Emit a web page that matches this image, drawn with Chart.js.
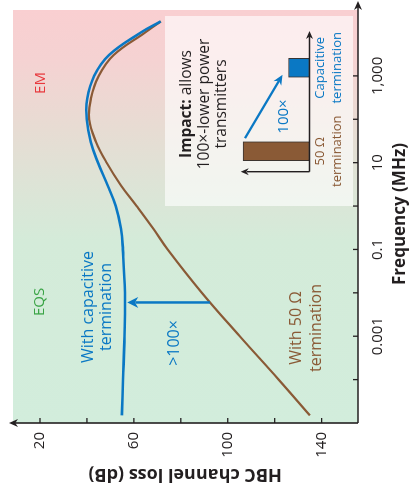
<!DOCTYPE html>
<html>
<head>
<meta charset="utf-8">
<script src="https://cdn.jsdelivr.net/npm/chart.js"></script>
<style>
  html, body { margin: 0; padding: 0; background: #fff; overflow: hidden; }
  #wrap {
    position: absolute; left: 0; top: 0; width: 492px; height: 409px;
    transform-origin: 0 0; transform: translate(0px, 492px) rotate(-90deg);
  }
  #inset { position: absolute; left: 290px; top: 235px; }
</style>
</head>
<body>
<div id="wrap">
  <canvas id="lossChart" width="492" height="409"></canvas>
  <canvas id="inset" width="180" height="115"></canvas>
</div>
<script>
// frequency (MHz) and channel loss (dB)
const freqMHz = [1.5e-5, 1e-4, 1e-3, 1e-2, 0.1, 0.3, 1, 3, 10, 30, 100, 300, 1000, 3000, 10000, 18000];
const lossCapacitive = [54.9, 55.4, 56.0, 56.2, 55.3, 54.5, 52.3, 48.8, 44.7, 41.6, 39.9, 40.1, 43.1, 49.4, 63.0, 71.4];
const loss50Ohm = [135.0, 121.7, 105.1, 89.0, 74.4, 68.3, 61.2, 54.5, 48.4, 43.9, 40.9, 41.7, 45.0, 51.3, 64.8, 71.5];

const freqTicks = [1e-4, 1e-3, 1e-2, 0.1, 1, 10, 100, 1000];
const freqTickLabels = ['', '0.001', '', '0.1', '', '10', '', '1,000'];
const lossTicks = [20, 40, 60, 80, 100, 120, 140];
const lossTickLabels = ['20', '', '60', '', '100', '', '140'];

// ">100x" arrow at fixed frequency
const gapFreq = 0.006;
const gapFrom = 92.4;
const gapTo = 57.2;

// inset: relative transmit power needed
const insetLabels = ['50 Ω', 'Capacitive'];
const insetPower = [0.98, 0.31];

const BLUE = '#0a78c4';
const BROWN = '#8a5a36';
const INK = '#231f20';
const FONT = '"Open Sans", sans-serif';

function arrowHead(ctx, x, y, ang, len, half, color) {
    ctx.save();
    ctx.translate(x, y);
    ctx.rotate(ang);
    ctx.fillStyle = color;
    ctx.beginPath();
    ctx.moveTo(0, 0);
    ctx.lineTo(-len, -half);
    ctx.lineTo(-len * 0.7, 0);
    ctx.lineTo(-len, half);
    ctx.closePath();
    ctx.fill();
    ctx.restore();
}

function text(ctx, s, x, y, font, color, align) {
    ctx.font = font;
    ctx.fillStyle = color;
    ctx.textAlign = align || 'center';
    ctx.textBaseline = 'middle';
    ctx.fillText(s, x, y);
}

const decor = {
    id: 'decor',
    beforeDatasetsDraw(chart) {
        const ctx = chart.ctx;
        const a = chart.chartArea;
        const g = ctx.createLinearGradient(a.left, 0, a.right, 0);
        g.addColorStop(0, '#d2eddc');
        g.addColorStop(0.44, '#d4ebd9');
        g.addColorStop(0.59, '#dee3d6');
        g.addColorStop(0.71, '#e7dcd3');
        g.addColorStop(0.88, '#f5d2d2');
        g.addColorStop(1, '#f9cfd1');
        ctx.save();
        ctx.fillStyle = g;
        ctx.fillRect(a.left, a.top, a.right - a.left, a.bottom - a.top);
        // inset panel
        ctx.fillStyle = 'rgba(255,255,255,0.62)';
        ctx.fillRect(286, 165, 190, 188);
        ctx.restore();
    },
    afterDraw(chart) {
        const ctx = chart.ctx;
        const a = chart.chartArea;
        const xs = chart.scales.x, ys = chart.scales.y;
        ctx.save();
        ctx.strokeStyle = INK;
        ctx.lineWidth = 1.6;
        // frequency axis
        ctx.beginPath();
        ctx.moveTo(a.left, a.bottom);
        ctx.lineTo(486, a.bottom);
        ctx.stroke();
        arrowHead(ctx, 491, a.bottom, 0, 9, 4, INK);
        // loss axis
        ctx.beginPath();
        ctx.moveTo(a.left, a.bottom);
        ctx.lineTo(a.left, 14);
        ctx.stroke();
        arrowHead(ctx, a.left, 9, -Math.PI / 2, 9, 4, INK);
        ctx.lineWidth = 1.3;
        freqTicks.forEach((f, i) => {
            const x = xs.getPixelForValue(f);
            ctx.beginPath();
            ctx.moveTo(x, a.bottom);
            ctx.lineTo(x, a.bottom - 5);
            ctx.stroke();
            text(ctx, freqTickLabels[i], x, 378, '15px ' + FONT, INK);
        });
        lossTicks.forEach((v, i) => {
            const y = ys.getPixelForValue(v);
            ctx.beginPath();
            ctx.moveTo(a.left, y);
            ctx.lineTo(a.left + 5, y);
            ctx.stroke();
            text(ctx, lossTickLabels[i], 60, y, '15px ' + FONT, INK, 'right');
        });
        text(ctx, 'Frequency (MHz)', 278, 400, 'bold 17px ' + FONT, INK);
        ctx.save();
        ctx.translate(18, 185);
        ctx.rotate(-Math.PI / 2);
        text(ctx, 'HBC channel loss (dB)', 0, 0, 'bold 18px ' + FONT, INK);
        ctx.restore();

        // region and curve labels
        text(ctx, 'EM', 409, 41, '15px ' + FONT, '#e8383d');
        text(ctx, 'EQS', 190, 40, '15px ' + FONT, '#3aa446');
        text(ctx, 'With capacitive', 185, 88, '16px ' + FONT, BLUE);
        text(ctx, 'termination', 185, 106, '16px ' + FONT, BLUE);
        text(ctx, '>100×', 149, 174, '16px ' + FONT, BLUE);
        text(ctx, 'With 50 Ω', 164, 296, '16px ' + FONT, BROWN);
        text(ctx, 'termination', 164, 316, '16px ' + FONT, BROWN);

        // >100x arrow
        const gx = xs.getPixelForValue(gapFreq);
        const y0 = ys.getPixelForValue(gapFrom), y1 = ys.getPixelForValue(gapTo);
        ctx.strokeStyle = BLUE;
        ctx.lineWidth = 2.5;
        ctx.beginPath();
        ctx.moveTo(gx, y0);
        ctx.lineTo(gx, y1 + 8);
        ctx.stroke();
        arrowHead(ctx, gx, y1, -Math.PI / 2, 11, 5.5, BLUE);

        // inset text
        ctx.font = 'bold 15.5px ' + FONT;
        const w1 = ctx.measureText('Impact:').width;
        ctx.font = '15.5px ' + FONT;
        const w2 = ctx.measureText(' allows').width;
        const sx = 388 - (w1 + w2) / 2;
        text(ctx, 'Impact:', sx, 187, 'bold 15.5px ' + FONT, INK, 'left');
        text(ctx, ' allows', sx + w1, 187, '15.5px ' + FONT, INK, 'left');
        text(ctx, '100×-lower power', 388, 204.5, '15.5px ' + FONT, INK);
        text(ctx, 'transmitters', 388, 222, '15.5px ' + FONT, INK);
        ctx.restore();
    }
};

new Chart(document.getElementById('lossChart').getContext('2d'), {
    type: 'line',
    data: {
        datasets: [
            {
                label: 'With capacitive termination',
                data: freqMHz.map((f, i) => ({ x: f, y: lossCapacitive[i] })),
                borderColor: BLUE,
                borderWidth: 2.6,
                pointRadius: 0,
                tension: 0.4,
                fill: false
            },
            {
                label: 'With 50 Ω termination',
                data: freqMHz.map((f, i) => ({ x: f, y: loss50Ohm[i] })),
                borderColor: BROWN,
                borderWidth: 2.2,
                pointRadius: 0,
                tension: 0.4,
                fill: false
            }
        ]
    },
    options: {
        responsive: false,
        animation: false,
        layout: { padding: { left: 69, right: 10, top: 13, bottom: 51 } },
        plugins: { legend: { display: false }, tooltip: { enabled: false } },
        scales: {
            x: { type: 'logarithmic', min: 1e-5, max: 3.3e4, display: false },
            y: { type: 'linear', min: 8.5, max: 155.5, reverse: true, display: false }
        }
    },
    plugins: [decor]
});

// small bar chart inside the inset panel
const insetDecor = {
    id: 'insetDecor',
    afterDraw(chart) {
        const ctx = chart.ctx;
        const a = chart.chartArea;
        const xs = chart.scales.x;
        const meta = chart.getDatasetMeta(0);
        const axisX = 30.3;
        ctx.save();
        ctx.strokeStyle = INK;
        ctx.lineWidth = 1.4;
        ctx.beginPath();
        ctx.moveTo(axisX, a.bottom);
        ctx.lineTo(166, a.bottom);
        ctx.moveTo(axisX, a.bottom);
        ctx.lineTo(axisX, a.top + 5);
        ctx.stroke();
        arrowHead(ctx, 171, a.bottom, 0, 8, 3.5, INK);
        arrowHead(ctx, axisX, a.top - 1, -Math.PI / 2, 8, 3.5, INK);

        const cols = [BROWN, BLUE];
        insetLabels.forEach((lab, i) => {
            const x = xs.getPixelForValue(i);
            text(ctx, lab, x, a.bottom + 11, '13px ' + FONT, cols[i]);
            text(ctx, 'termination', x, a.bottom + 28, '13px ' + FONT, cols[i]);
        });

        // 100x arrow between bars
        const b0 = meta.data[0], b1 = meta.data[1];
        const x0 = b0.x + 13, yA = b0.y + 2;
        const x1 = b1.x - 7, yB = b1.y - 6;
        ctx.strokeStyle = BLUE;
        ctx.lineWidth = 2.2;
        ctx.beginPath();
        ctx.moveTo(x0, yA);
        ctx.lineTo(x1 - 6, yB - 3.5);
        ctx.stroke();
        arrowHead(ctx, x1, yB, Math.atan2(yB - yA, x1 - x0), 10, 4.5, BLUE);
        text(ctx, '100×', 85.5, 49, '15px ' + FONT, BLUE);
        ctx.restore();
    }
};

new Chart(document.getElementById('inset').getContext('2d'), {
    type: 'bar',
    data: {
        labels: insetLabels,
        datasets: [{
            data: insetPower,
            backgroundColor: [BROWN, BLUE],
            borderColor: '#3a3330',
            borderWidth: 1,
            borderSkipped: false,
            barThickness: 19
        }]
    },
    options: {
        responsive: false,
        animation: false,
        layout: { padding: { left: 9.1, right: 4.1, top: 6.7, bottom: 40.5 } },
        plugins: { legend: { display: false }, tooltip: { enabled: false } },
        scales: {
            x: { display: false },
            y: { min: 0, max: 1, display: false }
        }
    },
    plugins: [insetDecor]
});
</script>
</body>
</html>
